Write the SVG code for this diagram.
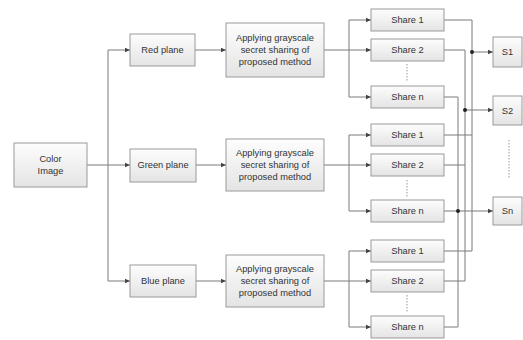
<svg xmlns="http://www.w3.org/2000/svg" width="523" height="340" viewBox="0 0 523 340">
<defs>
<linearGradient id="g" x1="0" y1="0" x2="0" y2="1">
<stop offset="0" stop-color="#fdfdfd"/>
<stop offset="1" stop-color="#e4e4e4"/>
</linearGradient>
<marker id="ah" markerWidth="6" markerHeight="6" refX="5" refY="3" orient="auto" markerUnits="userSpaceOnUse">
<path d="M0,0.8 L5,3 L0,5.2 Z" fill="#444"/>
</marker>
<style>
.box{fill:url(#g);stroke:#9a9a9a;stroke-width:1}
.t{font-family:"Liberation Sans",Arial,sans-serif;font-size:9.3px;fill:#333;text-anchor:middle}
.c{fill:none;stroke:#7a7a7a;stroke-width:1}
.a{fill:none;stroke:#7a7a7a;stroke-width:1;marker-end:url(#ah)}
.d{fill:none;stroke:#999;stroke-width:1;stroke-dasharray:1.5 1.5}
</style>
</defs>
<rect width="523" height="340" fill="#fff"/>

<g id="connectors">
<path class="c" d="M87,165 H108"/>
<path class="c" d="M108,50 V281"/>
<path class="a" d="M108,50 H130"/>
<path class="a" d="M108,165 H130"/>
<path class="a" d="M108,281 H130"/>
<path class="a" d="M195,50 H226"/>
<path class="a" d="M196,165 H226"/>
<path class="a" d="M196,281 H226"/>
<path class="c" d="M324,50 H349 M349,20 V97"/>
<path class="a" d="M349,20 H371"/>
<path class="a" d="M349,50 H371"/>
<path class="a" d="M349,97 H371"/>
<path class="c" d="M324,165 H349 M349,135 V211"/>
<path class="a" d="M349,135 H371"/>
<path class="a" d="M349,165 H371"/>
<path class="a" d="M349,211 H371"/>
<path class="c" d="M324,281 H349 M349,251 V327"/>
<path class="a" d="M349,251 H371"/>
<path class="a" d="M349,281 H371"/>
<path class="a" d="M349,327 H371"/>
<path class="c" d="M444,20 H472 V251 H444"/>
<path class="c" d="M444,135 H472"/>
<path class="c" d="M444,50 H465 V281 H444"/>
<path class="c" d="M444,165 H465"/>
<path class="c" d="M444,97 H458 V327 H444"/>
<path class="c" d="M444,211 H458"/>
<path class="a" d="M472,52 H493"/>
<path class="a" d="M465,110 H493"/>
<path class="a" d="M458,211 H493"/>
<circle cx="472" cy="52" r="2" fill="#222"/>
<circle cx="465" cy="110" r="2" fill="#222"/>
<circle cx="458" cy="211" r="2" fill="#222"/>
<path class="d" d="M407,64 V81"/>
<path class="d" d="M407,180 V197"/>
<path class="d" d="M407,295 V312"/>
<path class="d" d="M509,140 V178"/>
</g>

<g id="color-image"><rect class="box" x="14" y="143" width="73" height="44"/><text class="t" x="50.5" y="162">Color</text><text class="t" x="50.5" y="174">Image</text></g>

<g id="red-plane"><rect class="box" x="130" y="34" width="65" height="32"/><text class="t" x="162.5" y="53">Red plane</text></g>
<g id="green-plane"><rect class="box" x="130" y="149" width="66" height="33"/><text class="t" x="163" y="168">Green plane</text></g>
<g id="blue-plane"><rect class="box" x="130" y="265" width="66" height="32"/><text class="t" x="163" y="284">Blue plane</text></g>

<g id="apply-red"><rect class="box" x="226" y="23" width="98" height="54"/><text class="t" x="275" y="41">Applying grayscale</text><text class="t" x="275" y="53">secret sharing of</text><text class="t" x="275" y="65">proposed method</text></g>
<g id="apply-green"><rect class="box" x="226" y="139" width="98" height="52"/><text class="t" x="275" y="156">Applying grayscale</text><text class="t" x="275" y="168">secret sharing of</text><text class="t" x="275" y="180">proposed method</text></g>
<g id="apply-blue"><rect class="box" x="226" y="255" width="98" height="52"/><text class="t" x="275" y="272">Applying grayscale</text><text class="t" x="275" y="284">secret sharing of</text><text class="t" x="275" y="296">proposed method</text></g>

<g id="r-share1"><rect class="box" x="371" y="9" width="73" height="22"/><text class="t" x="407.5" y="23">Share 1</text></g>
<g id="r-share2"><rect class="box" x="371" y="39" width="73" height="22"/><text class="t" x="407.5" y="53">Share 2</text></g>
<g id="r-sharen"><rect class="box" x="371" y="86" width="73" height="22"/><text class="t" x="407.5" y="100">Share n</text></g>

<g id="g-share1"><rect class="box" x="371" y="124" width="73" height="22"/><text class="t" x="407.5" y="138">Share 1</text></g>
<g id="g-share2"><rect class="box" x="371" y="154" width="73" height="22"/><text class="t" x="407.5" y="168">Share 2</text></g>
<g id="g-sharen"><rect class="box" x="371" y="200" width="73" height="22"/><text class="t" x="407.5" y="214">Share n</text></g>

<g id="b-share1"><rect class="box" x="371" y="240" width="73" height="22"/><text class="t" x="407.5" y="254">Share 1</text></g>
<g id="b-share2"><rect class="box" x="371" y="270" width="73" height="22"/><text class="t" x="407.5" y="284">Share 2</text></g>
<g id="b-sharen"><rect class="box" x="371" y="316" width="73" height="22"/><text class="t" x="407.5" y="330">Share n</text></g>

<g id="s1"><rect class="box" x="493" y="37" width="29" height="30"/><text class="t" x="507.5" y="55">S1</text></g>
<g id="s2"><rect class="box" x="493" y="96" width="29" height="29"/><text class="t" x="507.5" y="113.5">S2</text></g>
<g id="sn"><rect class="box" x="493" y="197" width="29" height="28"/><text class="t" x="507.5" y="214">Sn</text></g>
</svg>
